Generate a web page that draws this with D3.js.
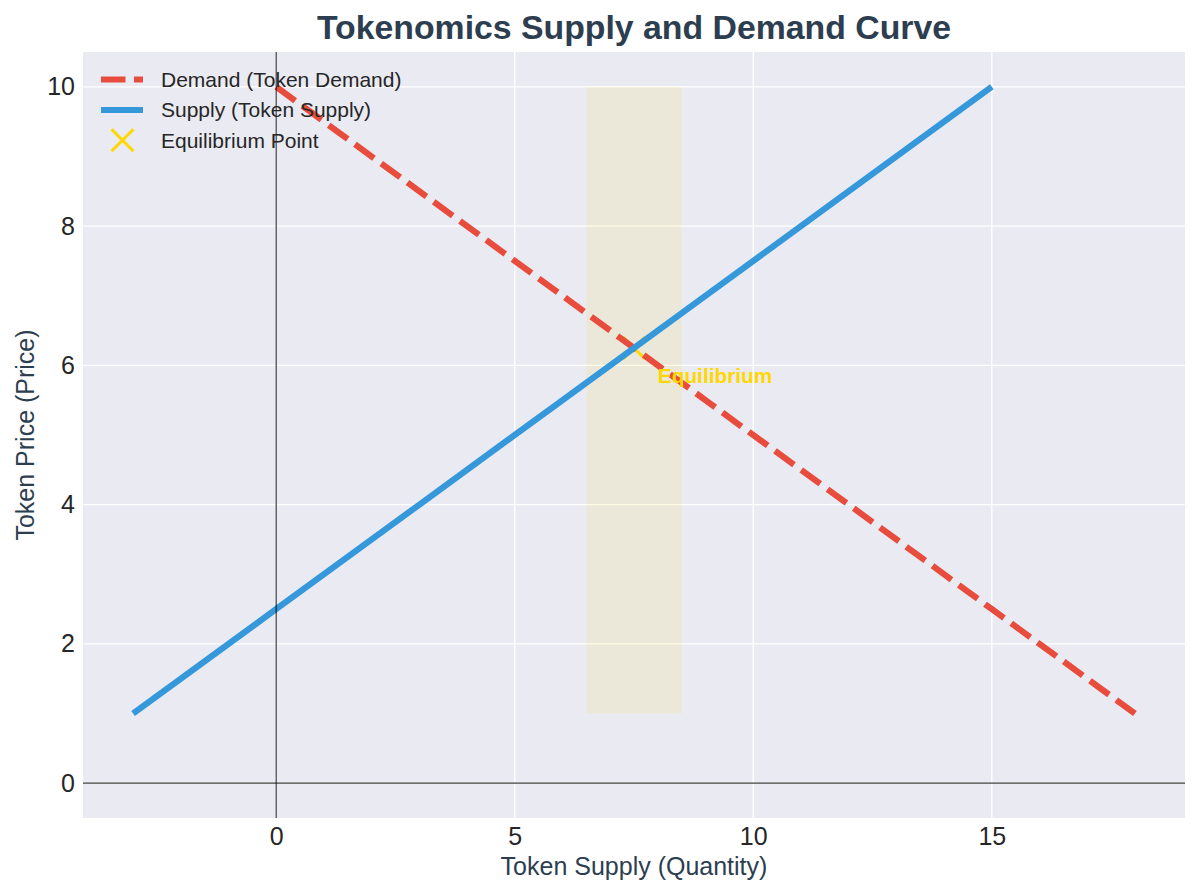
<!DOCTYPE html>
<html>
<head>
<meta charset="utf-8">
<script src="https://cdn.jsdelivr.net/npm/d3@7/dist/d3.min.js"></script>
<style>
  html, body { margin: 0; padding: 0; background: #ffffff; }
  svg { display: block; font-family: "Liberation Sans", Arial, sans-serif; }
</style>
</head>
<body>
<svg id="chart" width="1200" height="896"></svg>
<script>
// ---- data ----
const demandQuantity = [0, 3, 6, 9, 12, 15, 18];
const demandPrice    = [10, 8.5, 7, 5.5, 4, 2.5, 1];
const supplyQuantity = [-3, 0, 3, 6, 9, 12, 15];
const supplyPrice    = [1, 2.5, 4, 5.5, 7, 8.5, 10];
const equilibriumPoint = [7.5, 6.25];
const equilibriumBand = [6.5, 8.5];      // quantity range of shaded band
const equilibriumBandPrice = [1, 10];    // price range of shaded band
const annotationPos = [8, 5.75];
const xTicks = [0, 5, 10, 15];
const yTicks = [0, 2, 4, 6, 8, 10];
const xDomain = [-4.05, 19.05];
const yDomain = [-0.5, 10.5];
const legendLabels = ["Demand (Token Demand)", "Supply (Token Supply)", "Equilibrium Point"];

// ---- layout ----
const svg = d3.select("#chart");
const m = { left: 83, right: 1185, top: 52, bottom: 818 };
const x = d3.scaleLinear().domain(xDomain).range([m.left, m.right]);
const y = d3.scaleLinear().domain(yDomain).range([m.bottom, m.top]);

const red = "#e74c3c", blue = "#3498db", gold = "#FFD700", navy = "#2c3e50";

// background
svg.append("rect").attr("x", m.left).attr("y", m.top)
  .attr("width", m.right - m.left).attr("height", m.bottom - m.top)
  .attr("fill", "#EAEAF2");

// grid
const g = svg.append("g");
g.selectAll(".gx").data(xTicks).join("line")
  .attr("x1", d => x(d)).attr("x2", d => x(d))
  .attr("y1", m.top).attr("y2", m.bottom)
  .attr("stroke", "#ffffff").attr("stroke-width", 1.3);
g.selectAll(".gy").data(yTicks).join("line")
  .attr("y1", d => y(d)).attr("y2", d => y(d))
  .attr("x1", m.left).attr("x2", m.right)
  .attr("stroke", "#ffffff").attr("stroke-width", 1.3);

// axes tick labels via d3 axis
const xAxis = d3.axisBottom(x).tickValues(xTicks).tickSize(0).tickPadding(9).tickFormat(d3.format("d"));
const yAxis = d3.axisLeft(y).tickValues(yTicks).tickSize(0).tickPadding(8).tickFormat(d3.format("d"));
const gx = svg.append("g").attr("transform", `translate(0,${m.bottom})`).call(xAxis);
const gy = svg.append("g").attr("transform", `translate(${m.left},0)`).call(yAxis);
[gx, gy].forEach(a => {
  a.select(".domain").remove();
  a.selectAll("text").attr("font-size", 25).attr("fill", "#262626")
    .attr("font-family", "'Liberation Sans', Arial, sans-serif");
});

// shaded band
svg.append("rect")
  .attr("x", x(equilibriumBand[0])).attr("width", x(equilibriumBand[1]) - x(equilibriumBand[0]))
  .attr("y", y(equilibriumBandPrice[1])).attr("height", y(equilibriumBandPrice[0]) - y(equilibriumBandPrice[1]))
  .attr("fill", gold).attr("fill-opacity", 0.1);

// equilibrium marker (under the lines)
const xMarker = (cx, cy, s) => `M${cx - s},${cy - s}L${cx + s},${cy + s}M${cx - s},${cy + s}L${cx + s},${cy - s}`;
svg.append("path").attr("d", xMarker(x(equilibriumPoint[0]), y(equilibriumPoint[1]), 11))
  .attr("stroke", gold).attr("stroke-width", 3).attr("fill", "none");

const line = d3.line().x(d => x(d[0])).y(d => y(d[1]));
const demandData = demandQuantity.map((q, i) => [q, demandPrice[i]]);
const supplyData = supplyQuantity.map((q, i) => [q, supplyPrice[i]]);

svg.append("path").datum(demandData).attr("d", line)
  .attr("fill", "none").attr("stroke", red).attr("stroke-width", 6.2)
  .attr("stroke-dasharray", "23.5,9");
svg.append("path").datum(supplyData).attr("d", line)
  .attr("fill", "none").attr("stroke", blue).attr("stroke-width", 6.2)
  .attr("stroke-linecap", "butt");

// reference lines (drawn over the curves)
svg.append("line").attr("x1", x(0)).attr("x2", x(0)).attr("y1", m.top).attr("y2", m.bottom)
  .attr("stroke", "#000000").attr("stroke-opacity", 0.75).attr("stroke-width", 1.2);
svg.append("line").attr("x1", m.left).attr("x2", m.right).attr("y1", y(0)).attr("y2", y(0))
  .attr("stroke", "#000000").attr("stroke-opacity", 0.75).attr("stroke-width", 1.2);

// annotation
svg.append("text").attr("x", x(annotationPos[0])).attr("y", y(annotationPos[1]))
  .attr("font-size", 20.8).attr("font-weight", "bold").attr("fill", gold)
  .text("Equilibrium");

// legend
const lg = svg.append("g");
const rowsY = [79.5, 110, 140.3];
lg.append("line").attr("x1", 101).attr("x2", 143).attr("y1", rowsY[0]).attr("y2", rowsY[0])
  .attr("stroke", red).attr("stroke-width", 6.2).attr("stroke-dasharray", "24.5,8.5");
lg.append("line").attr("x1", 101).attr("x2", 143).attr("y1", rowsY[1]).attr("y2", rowsY[1])
  .attr("stroke", blue).attr("stroke-width", 6.2);
lg.append("path").attr("d", xMarker(122.5, rowsY[2], 11))
  .attr("stroke", gold).attr("stroke-width", 3).attr("fill", "none");
lg.selectAll(".lt").data(legendLabels).join("text")
  .attr("x", 161).attr("y", (d, i) => rowsY[i]).attr("dy", "0.35em")
  .attr("font-size", 21).attr("fill", "#262626").text(d => d);

// title and axis labels
svg.append("text").attr("x", (m.left + m.right) / 2).attr("y", 39)
  .attr("text-anchor", "middle").attr("font-size", 33.8).attr("font-weight", "bold")
  .attr("fill", navy).text("Tokenomics Supply and Demand Curve");
svg.append("text").attr("x", (m.left + m.right) / 2).attr("y", 875)
  .attr("text-anchor", "middle").attr("font-size", 25).attr("fill", navy)
  .text("Token Supply (Quantity)");
svg.append("text").attr("transform", `translate(34,${(m.top + m.bottom) / 2}) rotate(-90)`)
  .attr("text-anchor", "middle").attr("font-size", 25).attr("fill", navy)
  .text("Token Price (Price)");
</script>
</body>
</html>
